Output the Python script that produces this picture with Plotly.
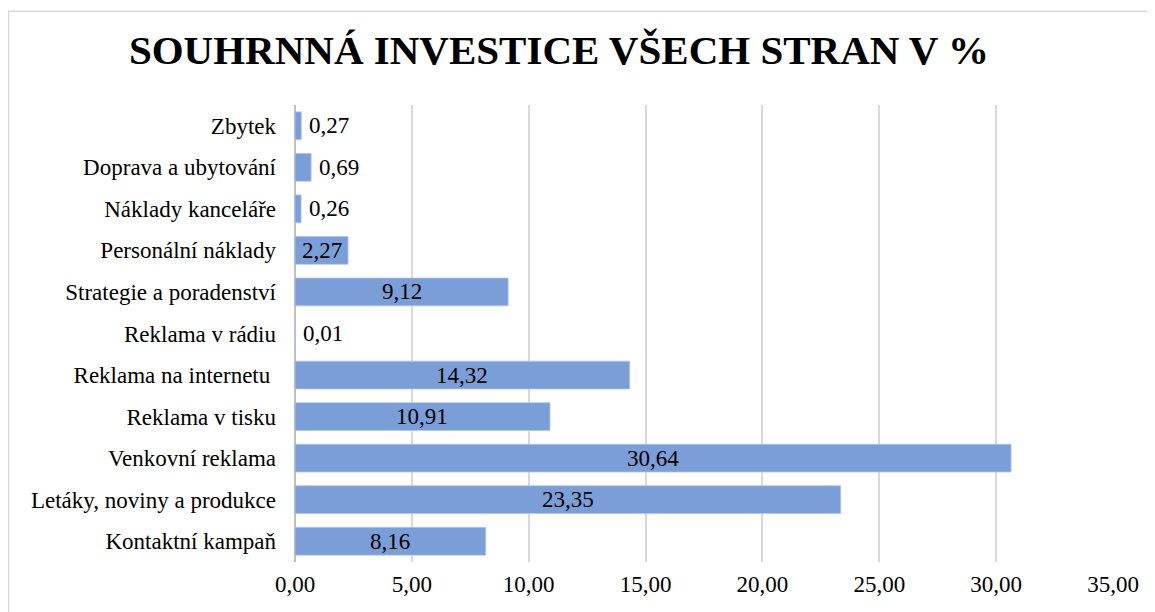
import plotly.graph_objects as go

categories = ["Kontaktní kampaň", "Letáky, noviny a produkce", "Venkovní reklama",
              "Reklama v tisku", "Reklama na internetu ", "Reklama v rádiu",
              "Strategie a poradenství", "Personální náklady", "Náklady kanceláře",
              "Doprava a ubytování", "Zbytek"]
values = [8.16, 23.35, 30.64, 10.91, 14.32, 0.01, 9.12, 2.27, 0.26, 0.69, 0.27]
label_inside = [True, True, True, True, True, False, True, True, False, False, False]
x_ticks = [0, 5, 10, 15, 20, 25, 30, 35]

FONT = "Liberation Serif, Times New Roman, serif"
TXT = dict(family=FONT, size=23, color="#000000")

fig = go.Figure()
fig.add_trace(go.Bar(
    x=values, y=categories, orientation="h",
    marker=dict(color="#7b9dd8", line=dict(color="#b4c7e7", width=0.8)),
    textposition="none",
    hoverinfo="skip",
))

for cat, val, inside in zip(categories, values, label_inside):
    label = f"{val:.2f}".replace(".", ",")
    if inside:
        fig.add_annotation(x=val / 2, y=cat, text=label, showarrow=False,
                           xanchor="center", yanchor="middle", font=TXT)
    else:
        fig.add_annotation(x=val, y=cat, text=label, showarrow=False,
                           xanchor="left", yanchor="middle", xshift=6, font=TXT)

fig.update_layout(
    width=1147, height=604,
    margin=dict(l=287, r=42, t=97, b=50, autoexpand=False),
    paper_bgcolor="white", plot_bgcolor="white",
    separators=", ",
    bargap=0.33,
    showlegend=False,
    title=dict(text="<b>SOUHRNNÁ INVESTICE VŠECH STRAN V %</b>",
               xref="paper", x=0.3227, xanchor="center", y=1 - 42 / 604, yanchor="middle",
               font=dict(family=FONT, size=41, color="#000000")),
    font=TXT,
    xaxis=dict(range=[0, 35], tickvals=x_ticks, tickformat=".2f",
               showgrid=True, gridcolor="#d9d9d9", gridwidth=1.5,
               zeroline=True, zerolinecolor="#bfbfbf", zerolinewidth=1.5,
               showline=False, ticks="", ticklabelstandoff=6,
               tickfont=TXT),
    yaxis=dict(showgrid=False, zeroline=False, showline=False, ticks="",
               ticklabelstandoff=18, tickfont=TXT),
    shapes=[dict(type="rect", xref="paper", yref="paper",
                 x0=-0.3503, x1=1.06, y0=-0.13, y1=1.205,
                 line=dict(color="#d9d9d9", width=1.5), fillcolor="rgba(0,0,0,0)",
                 layer="below")],
)

fig.write_html("out.html")
